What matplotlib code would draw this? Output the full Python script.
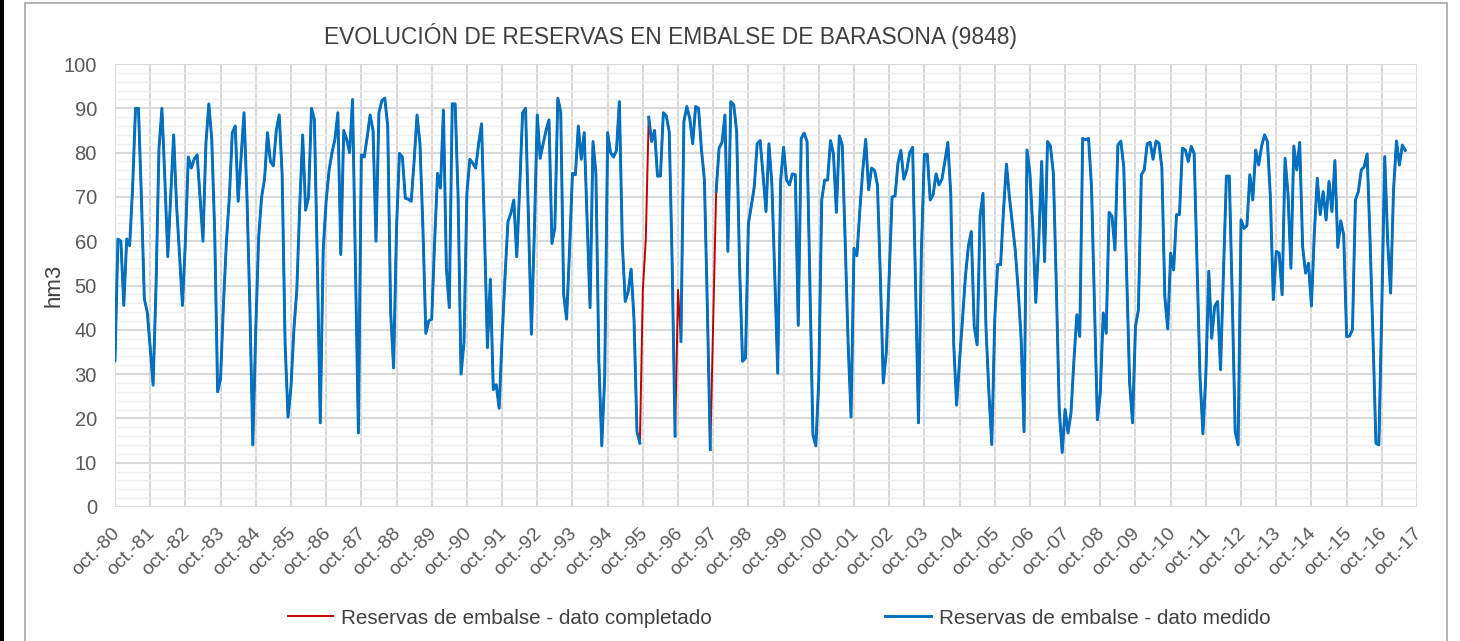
import numpy as np
import matplotlib
matplotlib.use('Agg')
import matplotlib.pyplot as plt
from matplotlib.patches import Rectangle
from matplotlib.transforms import ScaledTranslation

# reservas mensuales (hm3) desde octubre 1980
reservas = [
    33, 60.5, 60, 45.5, 60.5, 59, 72, 90, 90, 70,
    47, 44, 36, 27.5, 50, 81, 90, 74, 56.5, 70,
    84, 68, 57, 45.5, 60, 79, 76.5, 78.5, 79.5, 70,
    60, 82, 91, 83, 62, 26, 29, 46, 60, 70,
    84.5, 86, 69, 79, 89, 70, 45, 14, 40, 61,
    70, 74, 84.5, 78, 77, 85, 88.5, 75, 37, 20.3,
    27, 40, 49, 68, 84, 67, 70, 90, 87.5, 55,
    19, 58, 69, 76, 80, 83, 89, 57, 85, 83,
    80, 92, 55, 16.7, 79.5, 79, 83.5, 88.5, 85, 60,
    89, 91.7, 92.3, 86, 44, 31.4, 63, 79.8, 79, 69.7,
    69.5, 69, 78, 88.5, 82, 63, 39.2, 42, 42.4, 60,
    75.3, 72, 89.6, 54, 45, 91, 91, 70, 30, 37,
    70.8, 78.5, 77.6, 76.5, 82, 86.5, 62, 36, 51.4, 26.5,
    27.6, 22.3, 38, 52, 64.4, 66.3, 69.3, 56.5, 72, 89,
    90, 65, 39, 62, 88.5, 78.7, 82, 85, 87.4, 59.5,
    63, 92.3, 89.2, 48, 42.4, 58, 75.3, 75, 86, 78.5,
    84.5, 65, 45, 82.5, 75.3, 33, 13.8, 29.5, 84.5, 80,
    79, 80.5, 91.5, 59.5, 46.4, 48.6, 53.7, 42.3, 17, 14.4,
    49, 60.3, 88, 82.5, 85, 74.7, 74.7, 89, 88.3, 84.7,
    55, 16, 49, 37.4, 87, 90.4, 87.7, 82, 90.4, 90,
    80.6, 73.8, 45, 13, 42, 71.2, 81, 82.3, 88.5, 57.7,
    91.5, 90.8, 84.7, 54, 32.9, 33.6, 64, 68, 72.3, 82,
    82.7, 75, 66.7, 82, 73, 52, 30.2, 73.8, 81.2, 73.8,
    72.7, 75.2, 75, 41, 83.2, 84.4, 82.5, 50, 16.3, 13.8,
    28.7, 69.3, 73.8, 73.8, 82.7, 79.7, 66.5, 83.8, 81.7, 60,
    37, 20.3, 58.4, 56.7, 67, 76, 83, 71.6, 76.5, 76,
    72.7, 52, 28, 34.7, 52, 70, 70.2, 77.6, 80.5, 74,
    76, 80, 81.2, 50, 19, 58, 79.6, 79.6, 69.3, 70.5,
    75.2, 72.7, 74, 78, 82.3, 70.8, 37, 23, 33, 42.3,
    52, 58.8, 62.2, 40.8, 36.6, 65.6, 70.8, 40.8, 26, 14.1,
    42.3, 54.7, 54.7, 67, 77.4, 70, 64, 58, 49, 38,
    17, 80.6, 75.3, 63, 46.2, 59.5, 78, 55.4, 82.5, 81.5,
    75.3, 50, 22, 12.3, 22, 16.7, 21.2, 33, 43.4, 38.5,
    83.2, 82.9, 83.2, 72.3, 46, 19.7, 25.7, 43.8, 39.2, 66.5,
    65.6, 58, 81.7, 82.6, 76.8, 52, 28, 19, 40.8, 44.5,
    75, 76.1, 82, 82.3, 78.5, 82.6, 82.1, 76.5, 47.5, 40.2,
    57.3, 53.5, 66, 66, 81, 80.6, 78, 81.4, 79.8, 55,
    29.5, 16.5, 30, 53.2, 38.1, 45.3, 46.4, 31, 53, 74.7,
    74.7, 47, 17, 14, 64.8, 62.9, 63.5, 75, 69.3, 80.6,
    77.2, 81.4, 84, 82.5, 70, 46.8, 57.7, 57.3, 47.9, 78.7,
    70.8, 53.9, 81.5, 76.1, 82.3, 58.8, 52.8, 55, 45.4, 62,
    74.2, 66, 71.2, 64.8, 73.5, 66.7, 78.2, 58.6, 64.6, 61.4,
    38.5, 38.6, 40, 69.3, 71.2, 76.1, 76.8, 79.7, 60, 38,
    14.4, 14, 45, 79.1, 60, 48.3, 71.6, 82.6, 77.2, 81.7, 80.5,
]
# meses (indice desde oct-80) sin dato medido, completados
meses_completados = [180, 181, 192, 204]
tick_labels = ['oct.-%02d' % (y % 100) for y in range(1980, 2018)]

completado = np.array(reservas, dtype=float)
medido = completado.copy()
medido[meses_completados] = np.nan
meses = np.arange(len(completado))

plt.rcParams['font.family'] = ['Liberation Sans', 'DejaVu Sans']
W, H = 1460, 641
fig = plt.figure(figsize=(W / 100, H / 100), dpi=100)

# marcos
fig.patches.append(Rectangle((0, 0), 4 / W, 1, transform=fig.transFigure,
                             facecolor='black', edgecolor='none'))
fig.patches.append(Rectangle((25 / W, -0.05), 1422 / W, 1.05 - 3 / H, transform=fig.transFigure,
                             facecolor='none', edgecolor='#a6a6a6', lw=1.2))

ax = fig.add_axes([115 / W, (H - 507) / H, (1417 - 115) / W, (507 - 64) / H])
ax.plot(meses, completado, color='#C00000', lw=1.4, label='Reservas de embalse - dato completado', zorder=3)
ax.plot(meses, medido, color='#0070C0', lw=2.1, label='Reservas de embalse - dato medido', zorder=4)

ax.set_xlim(0, 444)
ax.set_ylim(0, 100)
ax.set_xticks(np.arange(0, 445, 12))
ax.set_xticklabels(tick_labels, rotation=45, ha='right', va='top', rotation_mode='anchor')
ax.set_yticks(np.arange(0, 101, 10))
ax.set_yticks(np.arange(0, 101, 2), minor=True)
ax.tick_params(axis='y', length=0, labelsize=14.5, colors='#595959', pad=13)
ax.tick_params(axis='x', length=0, labelsize=14, colors='#595959', pad=13)
ax.tick_params(which='minor', length=0)
shift = ScaledTranslation(-0.04, 0, fig.dpi_scale_trans)
for lab in ax.get_xticklabels():
    lab.set_transform(lab.get_transform() + shift)
ax.grid(True, which='major', color='#d9d9d9', lw=1.5)
ax.grid(True, which='minor', axis='y', color='#eeeeee', lw=1.0)
ax.set_axisbelow(True)
for s in ax.spines.values():
    s.set_visible(False)
ax.set_ylabel('hm3', fontsize=16, color='#404040', labelpad=-1)

fig.text(671 / W, 1 - 36 / H, 'EVOLUCIÓN DE RESERVAS EN EMBALSE DE BARASONA (9848)',
         ha='center', va='center', fontsize=16.4, color='#404040')

fig.legend(loc='center', bbox_to_anchor=(779 / W, 1 - 618 / H), ncol=2, frameon=False,
           fontsize=14.9, labelcolor='#404040', handlelength=2.2, handletextpad=0.38,
           columnspacing=8.4)

fig.savefig('out.png', dpi=100)
